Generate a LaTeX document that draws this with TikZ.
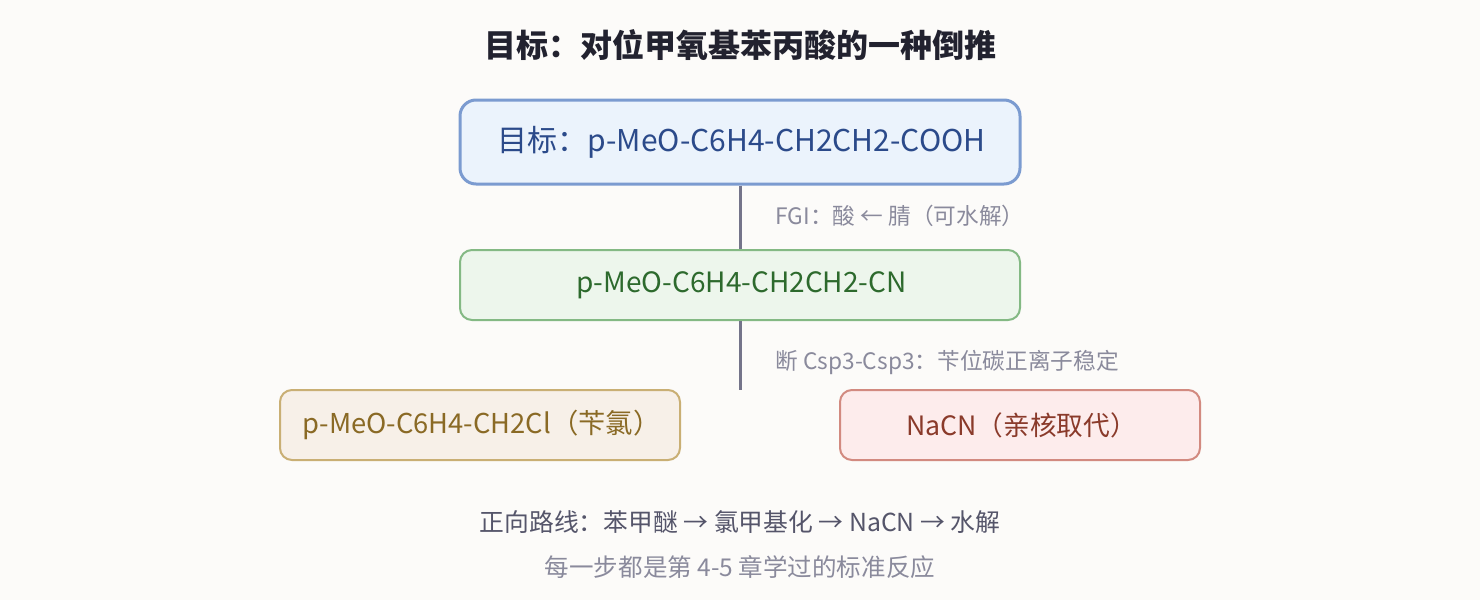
\documentclass[tikz,border=0pt]{standalone}
\usepackage{fontspec}
\setmainfont{Noto Sans CJK SC}
\usepackage{tikz}
\usetikzlibrary{calc}

\definecolor{bgpaper}{HTML}{FCFBF9}
\definecolor{titleink}{HTML}{22222F}
\definecolor{linkgray}{HTML}{74748A}
\definecolor{notegray}{HTML}{8A8A9C}
\definecolor{routegray}{HTML}{55556A}
\definecolor{goaldraw}{HTML}{7B9BD0}
\definecolor{goalfill}{HTML}{EBF3FC}
\definecolor{goalink}{HTML}{2B4A8A}
\definecolor{nitdraw}{HTML}{84B984}
\definecolor{nitfill}{HTML}{EDF6EC}
\definecolor{nitink}{HTML}{2D6A2D}
\definecolor{bzdraw}{HTML}{C9AF74}
\definecolor{bzfill}{HTML}{F7F0E8}
\definecolor{bzink}{HTML}{8A6A25}
\definecolor{cndraw}{HTML}{D28A80}
\definecolor{cnfill}{HTML}{FDECEC}
\definecolor{cnink}{HTML}{8A3A2A}

\begin{document}
\begin{tikzpicture}[x=0.75pt,y=-0.75pt]
    \newcommand{\boxfont}[1]{ \fontsize{#1}{24}\selectfont }
    \newcommand{\notefont}[0]{ \fontsize{17}{20}\selectfont }
    \tikzstyle{edge}=[line width=2.25pt,draw=linkgray]
    \tikzstyle{molecule}=[
      rectangle,
      rounded corners=9pt,
      line width=1.5pt,
      minimum height=52.5pt,
      inner sep=0pt
    ]
    \tikzstyle{note}=[
      anchor=west,
      text=notegray,
      font=\notefont
    ]

    \fill[bgpaper] (0,0) rectangle (1480,600);
    \useasboundingbox (0,0) rectangle (1480,600);

    \node[text=titleink,font=\fontsize{24}{28}\selectfont\bfseries] (title) at (740,45) {目标：对位甲氧基苯丙酸的一种倒推};

    \node[molecule,draw=goaldraw,fill=goalfill,text=goalink,font=\boxfont{22.5},line width=2.25pt,rounded corners=12pt,minimum width=420pt,minimum height=63pt] (target) at (740,142) {目标：p-MeO-C6H4-CH2CH2-COOH};
    \node[molecule,draw=nitdraw,fill=nitfill,text=nitink,font=\boxfont{21},minimum width=420pt] (nitrile) at (740,285) {p-MeO-C6H4-CH2CH2-CN};
    \node[molecule,draw=bzdraw,fill=bzfill,text=bzink,font=\boxfont{20.5},minimum width=300pt] (benzyl) at (480,425) {p-MeO-C6H4-CH2Cl（苄氯）};
    \node[molecule,draw=cndraw,fill=cnfill,text=cnink,font=\boxfont{20},minimum width=270pt] (cyanide) at (1020,425) {NaCN（亲核取代）};
    \coordinate (split) at (740,390);

    \node[note] (fgi) at (768,216) {FGI：酸 ← 腈（可水解）};
    \node[note] (disconnect) at (768,362) {断 Csp3-Csp3：苄位碳正离子稳定};

    \node[text=routegray,font=\fontsize{18.6}{22}\selectfont] (forward) at (740,522) {正向路线：苯甲醚 → 氯甲基化 → NaCN → 水解};
    \node[text=notegray,font=\fontsize{18.4}{22}\selectfont] (remark) at (740,567) {每一步都是第 4-5 章学过的标准反应};

    \draw[edge] (target)--(nitrile);
    \draw[edge] (nitrile)--(split);
\end{tikzpicture}
\end{document}
